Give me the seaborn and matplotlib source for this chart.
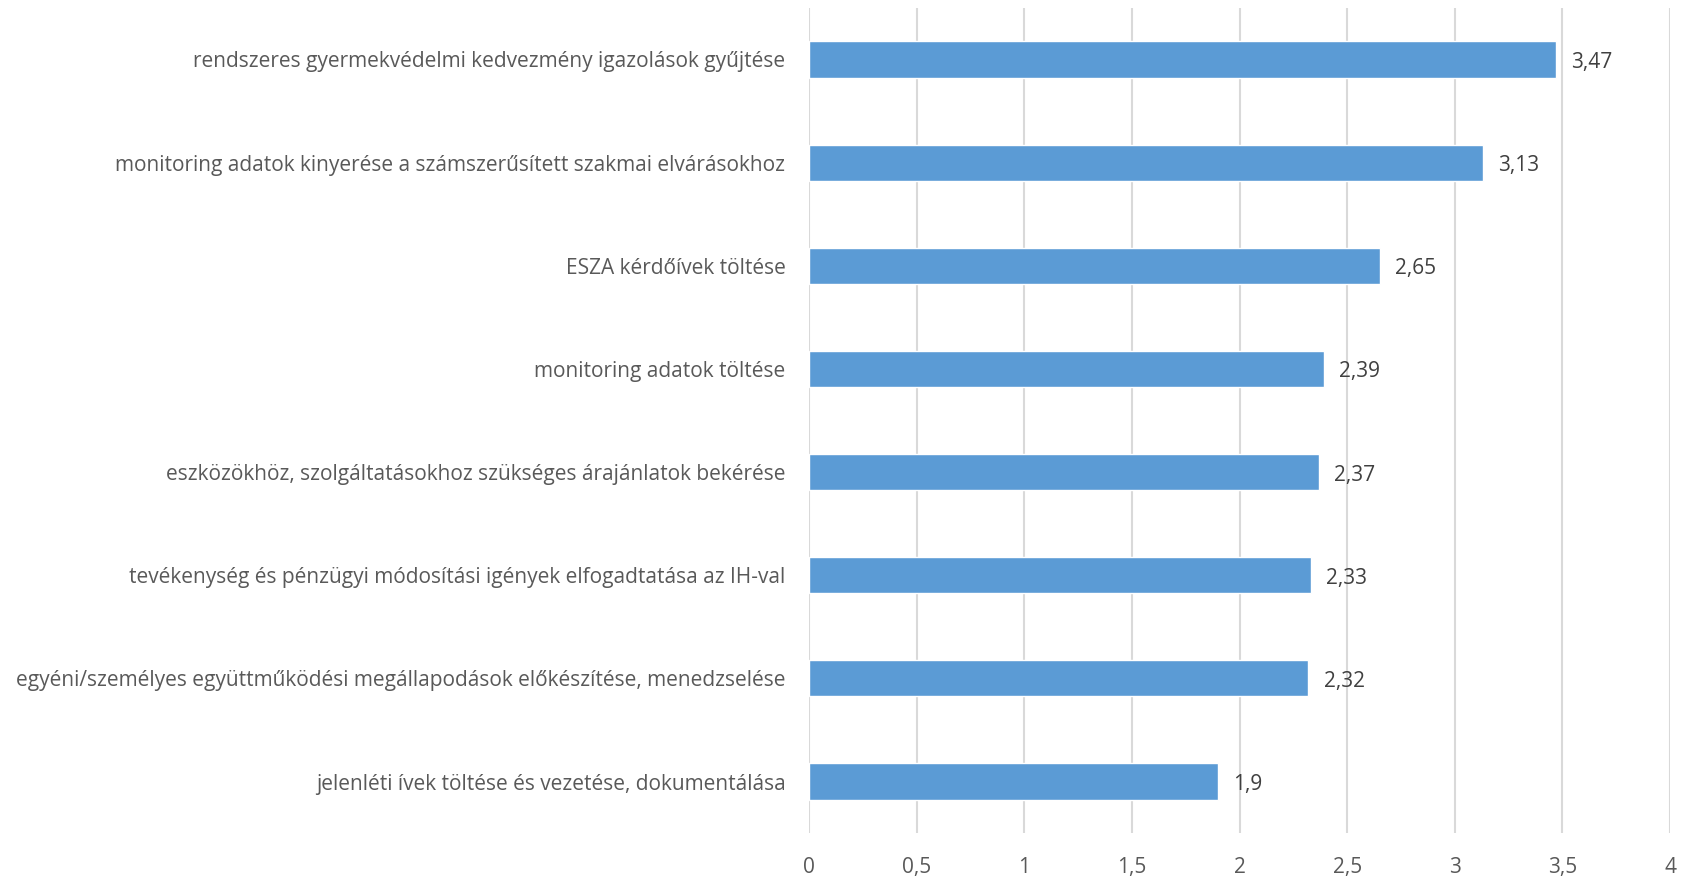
import matplotlib
matplotlib.use("Agg")
import matplotlib.pyplot as plt
import seaborn as sns
import pandas as pd

# Data
categories = [
    "rendszeres gyermekvédelmi kedvezmény igazolások gyűjtése",
    "monitoring adatok kinyerése a számszerűsített szakmai elvárásokhoz",
    "ESZA kérdőívek töltése",
    "monitoring adatok töltése",
    "eszközökhöz, szolgáltatásokhoz szükséges árajánlatok bekérése",
    "tevékenység és pénzügyi módosítási igények elfogadtatása az IH-val",
    "egyéni/személyes együttműködési megállapodások előkészítése, menedzselése",
    "jelenléti ívek töltése és vezetése, dokumentálása",
]
values = [3.47, 3.13, 2.65, 2.39, 2.37, 2.33, 2.32, 1.9]
value_labels = ["3,47", "3,13", "2,65", "2,39", "2,37", "2,33", "2,32", "1,9"]
x_ticks = [0, 0.5, 1, 1.5, 2, 2.5, 3, 3.5, 4]
x_tick_labels = ["0", "0,5", "1", "1,5", "2", "2,5", "3", "3,5", "4"]

df = pd.DataFrame({"Category": categories, "Value": values})

sns.set_style("white")
plt.rcParams["font.family"] = ["Open Sans", "DejaVu Sans"]

fig = plt.figure(figsize=(16.87, 8.76), dpi=100)
ax = fig.add_axes([0.4796, 0.049, 0.5104, 0.942])

sns.barplot(data=df, x="Value", y="Category", color="#5B9BD5",
            saturation=1, width=0.35, orient="h", ax=ax)

ax.set_xlim(0, 4)
ax.set_xticks(x_ticks)
ax.set_xticklabels(x_tick_labels, fontsize=15, color="#595959")
ax.tick_params(axis="y", labelsize=15, labelcolor="#595959", length=0, pad=17)
ax.tick_params(axis="x", length=0, pad=17)
ax.set_xlabel("")
ax.set_ylabel("")

ax.grid(True, axis="x", color="#d9d9d9", linewidth=1.5)
ax.set_axisbelow(True)
for s in ax.spines.values():
    s.set_visible(False)

# value labels to the right of each bar
for i, (v, lab) in enumerate(zip(values, value_labels)):
    ax.text(v + 0.07, i + 0.03, lab, va="center", ha="left", fontsize=15, color="#404040")

plt.savefig("out.png", dpi=100)
